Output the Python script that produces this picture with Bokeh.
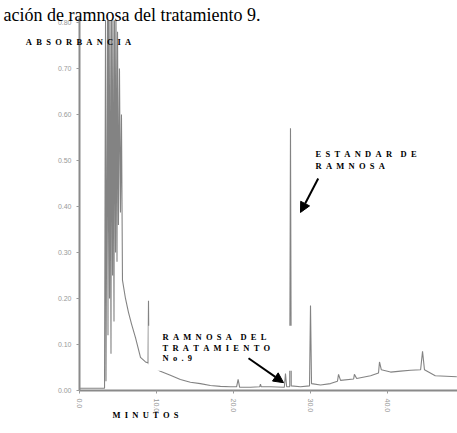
from bokeh.plotting import figure
from bokeh.models import Label, Arrow, NormalHead, FixedTicker, BoxAnnotation, Range1d, AllLabels
from bokeh.embed import file_html
from bokeh.resources import INLINE

# ---- data ----
minutes = [0.0, 1.5, 3.0, 3.25, 3.38, 3.44, 3.64, 3.70, 3.77, 3.90, 3.96, 4.09, 4.16, 4.29,
           4.35, 4.48, 4.55, 4.68, 4.74, 4.87, 4.94, 5.06, 5.19, 5.32, 5.45, 5.58, 5.97,
           6.36, 6.75, 7.27, 7.92, 8.57, 8.90, 8.96, 9.02, 9.2, 10.5, 11.8, 13.1, 14.4,
           15.7, 17.0, 18.3, 19.6, 20.4, 20.6, 20.8, 22.2, 23.4, 23.5, 23.6, 24.8, 26.6,
           26.75, 26.9, 27.3, 27.4, 27.5, 28.7, 29.87, 30.0, 30.13, 31.3, 32.6, 33.5,
           33.64, 33.9, 35.6, 35.7, 36.0, 37.8, 38.83, 38.96, 39.2, 40.4, 41.7, 43.0,
           44.3, 44.55, 44.8, 46.2, 49.0]
absorbance = [0.05, 0.05, 0.05, 0.05, 8.05, 0.2, 8.05, 1.2, 8.05, 2.0, 8.05, 0.8, 8.05, 2.5,
              8.05, 1.5, 8.05, 3.0, 8.05, 2.8, 7.8, 3.6, 7.0, 3.87, 6.0, 2.4, 2.0,
              1.7, 1.45, 1.15, 0.72, 0.62, 0.60, 1.95, 0.58, 0.55, 0.42, 0.33, 0.24, 0.18,
              0.15, 0.11, 0.09, 0.08, 0.08, 0.24, 0.07, 0.07, 0.08, 0.14, 0.08, 0.08, 0.07,
              0.37, 0.08, 0.08, 5.70, 0.10, 0.08, 0.10, 1.85, 0.15, 0.12, 0.15, 0.20,
              0.35, 0.22, 0.25, 0.35, 0.26, 0.32, 0.38, 0.62, 0.45, 0.40, 0.42, 0.44,
              0.45, 0.85, 0.45, 0.32, 0.30]

y_ticks = [0, 1, 2, 3, 4, 5, 6, 7, 8]
y_tick_labels = ["0.00", "0.10", "0.20", "0.30", "0.40", "0.50", "0.60", "0.70", "0.80"]
x_ticks = [0, 10, 20, 30, 40]
x_tick_labels = ["0.0", "10.0", "20.0", "30.0", "40.0"]

caption = "ación de ramnosa del tratamiento 9."
y_label = "ABSORBANCIA"
x_label = "MINUTOS"
std_label = ["ESTANDAR DE", "RAMNOSA"]
sample_label = ["RAMNOSA DEL", "TRATAMIENTO", "No.9"]
std_peak_time = 27.4
sample_peak_time = 26.75


def spaced(s):
    return "\u00a0\u00a0\u00a0\u00a0".join("\u00a0\u00a0".join(w) for w in s.split(" "))


# plot frame covers the whole canvas; axes are pinned at t=0 and A=0
p = figure(width=457, height=433, output_backend="svg", toolbar_location=None,
           x_range=Range1d(-10.26, 49.09), y_range=Range1d(-0.935, 8.478),
           min_border=0, min_border_left=0, min_border_right=0,
           min_border_top=0, min_border_bottom=0)
p.outline_line_color = None
p.xgrid.visible = False
p.ygrid.visible = False
p.background_fill_color = "white"

for ax in (p.xaxis[0], p.yaxis[0]):
    ax.fixed_location = 0
    ax.axis_line_color = "#8a8a8a"
    ax.axis_line_width = 2
    ax.major_tick_line_color = "#9a9a9a"
    ax.major_tick_out = 3
    ax.major_tick_in = 0
    ax.minor_tick_line_color = None
    ax.major_label_text_color = "#999999"
    ax.major_label_text_font = "Liberation Sans"
    ax.major_label_text_font_size = "7px"
    ax.major_label_policy = AllLabels()
p.yaxis.bounds = (0, 8.1)
p.xaxis.bounds = (0, 49.09)
p.yaxis.ticker = FixedTicker(ticks=y_ticks)
p.yaxis.major_label_overrides = {t: l for t, l in zip(y_ticks, y_tick_labels)}
p.xaxis.ticker = FixedTicker(ticks=x_ticks)
p.xaxis.major_label_overrides = {t: l for t, l in zip(x_ticks, x_tick_labels)}
p.xaxis.major_label_orientation = "vertical"

p.line(minutes, absorbance, line_color="#5a5a5a", line_width=1.1, line_alpha=0.75)

# white box behind the sample label (hides the trace as in the scan)
p.add_layout(BoxAnnotation(left=8.96, right=28.7, bottom=0.43, top=1.41,
                           fill_color="white", fill_alpha=1.0, line_color=None))

font_kw = dict(text_font="Liberation Serif", text_font_style="bold",
               text_font_size="8.5px", text_color="black", text_baseline="middle")

p.add_layout(Label(x=3, y=14, x_units="canvas", y_units="canvas", text=caption,
                   text_font="Liberation Serif", text_font_size="18px",
                   text_color="black", text_align="left", text_baseline="alphabetic"))
p.add_layout(Label(x=78, y=41, x_units="canvas", y_units="canvas",
                   text=spaced(y_label), text_align="center", **font_kw))
p.add_layout(Label(x=145, y=414, x_units="canvas", y_units="canvas",
                   text=spaced(x_label), text_align="center", **font_kw))
for txt, yy in zip(std_label, [5.15, 4.87]):
    p.add_layout(Label(x=30.65, y=yy, text=spaced(txt), text_align="left", **font_kw))
for txt, yy in zip(sample_label, [1.17, 0.93, 0.70]):
    p.add_layout(Label(x=10.78, y=yy, text=spaced(txt), text_align="left", **font_kw))

p.add_layout(Arrow(end=NormalHead(size=10, fill_color="black", line_color="black"),
                   x_start=31.0, y_start=4.61, x_end=std_peak_time + 1.3, y_end=3.87,
                   line_color="black", line_width=2))
p.add_layout(Arrow(end=NormalHead(size=10, fill_color="black", line_color="black"),
                   x_start=21.95, y_start=0.70, x_end=sample_peak_time - 0.25, y_end=0.17,
                   line_color="black", line_width=2))

open("out.html", "w").write(file_html(p, INLINE))
